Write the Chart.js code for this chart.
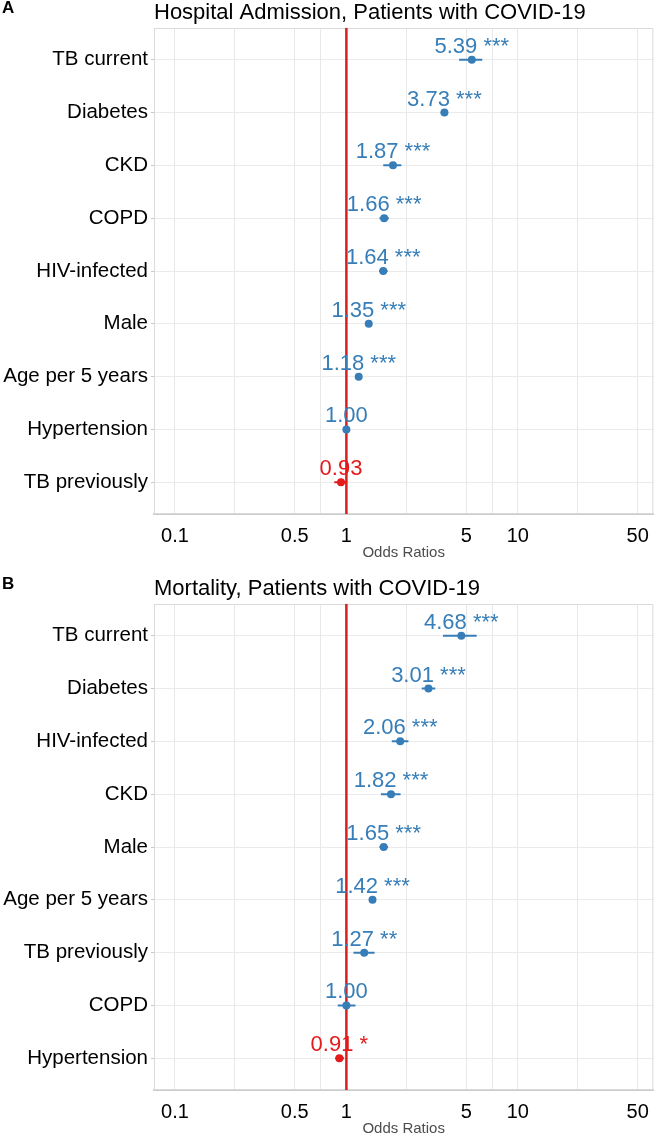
<!DOCTYPE html>
<html>
<head>
<meta charset="utf-8">
<title>COVID-19 odds ratios</title>
<script src="https://cdn.jsdelivr.net/npm/chart.js@4.4.1/dist/chart.umd.min.js"></script>
<style>
  html, body { margin: 0; padding: 0; background: #fff; overflow: hidden; }
  .panel { position: absolute; left: 0; width: 659px; height: 567px; }
  #panelA { top: 0; }
  #panelB { top: 576px; }
</style>
</head>
<body>
<div class="panel" id="panelA"><canvas id="chartA"></canvas></div>
<div class="panel" id="panelB"><canvas id="chartB"></canvas></div>
<script>
// panel A - hospital admission
const admissionCategories = ["TB current", "Diabetes", "CKD", "COPD", "HIV-infected", "Male", "Age per 5 years", "Hypertension", "TB previously"];
const admissionOR    = [5.39, 3.73, 1.87, 1.66, 1.64, 1.35, 1.18, 1.00, 0.93];
const admissionLower = [4.54, 3.55, 1.64, 1.56, 1.55, 1.30, 1.16, 0.96, 0.85];
const admissionUpper = [6.20, 3.92, 2.09, 1.77, 1.74, 1.40, 1.20, 1.04, 1.01];
const admissionStars = ["***", "***", "***", "***", "***", "***", "***", "", ""];

// panel B - mortality
const mortalityCategories = ["TB current", "Diabetes", "HIV-infected", "CKD", "Male", "Age per 5 years", "TB previously", "COPD", "Hypertension"];
const mortalityOR    = [4.68, 3.01, 2.06, 1.82, 1.65, 1.42, 1.27, 1.00, 0.91];
const mortalityLower = [3.66, 2.75, 1.84, 1.59, 1.56, 1.38, 1.10, 0.89, 0.86];
const mortalityUpper = [5.75, 3.30, 2.30, 2.07, 1.75, 1.47, 1.46, 1.13, 0.97];
const mortalityStars = ["***", "***", "***", "***", "***", "***", "**", "", "*"];

const xTickLabels = [0.1, 0.5, 1, 5, 10, 50];

const FONT = "'Liberation Sans', Arial, sans-serif";
const BLUE = "#377eb8";
const RED = "#e41a1c";
const LINE_RED = "#d71f1f";

// minor grid lines halfway (log scale) between the labelled ticks
const xGrid = [];
xTickLabels.forEach((v, i) => {
    xGrid.push(v);
    if (i < xTickLabels.length - 1) xGrid.push(Math.sqrt(v * xTickLabels[i + 1]));
});

const panelTag = {
    id: "panelTag",
    afterDraw(chart, args, opts) {
        const ctx = chart.ctx;
        ctx.save();
        ctx.font = "bold 17px " + FONT;
        ctx.fillStyle = "#000";
        ctx.textBaseline = "alphabetic";
        ctx.fillText(opts.text, 2, 13);
        ctx.restore();
    }
};

const panelFrame = {
    id: "panelFrame",
    beforeDatasetsDraw(chart) {
        const a = chart.chartArea;
        const ctx = chart.ctx;
        ctx.save();
        ctx.strokeStyle = "#dadada";
        ctx.lineWidth = 1;
        ctx.strokeRect(a.left + 0.5, a.top + 0.5, a.right - a.left - 1, a.bottom - a.top - 1);
        ctx.restore();
    }
};

const valueLabels = {
    id: "valueLabels",
    afterDatasetsDraw(chart, args, opts) {
        const ctx = chart.ctx;
        const xs = chart.scales.x;
        const ys = chart.scales.y;
        ctx.save();
        ctx.font = "22px " + FONT;
        ctx.textAlign = "center";
        ctx.textBaseline = "alphabetic";
        opts.or.forEach((v, i) => {
            const text = v.toFixed(2) + (opts.stars[i] ? " " + opts.stars[i] : "");
            ctx.fillStyle = v < 1 ? RED : BLUE;
            ctx.fillText(text, xs.getPixelForValue(v), ys.getPixelForValue(i) - 7);
        });
        ctx.restore();
    }
};

function makeForest(canvasId, tag, title, categories, or, lower, upper, stars) {
    const colors = or.map(v => v < 1 ? RED : BLUE);
    const points = or.map((v, i) => ({ x: v, y: i }));
    const bars = [];
    categories.forEach((c, i) => {
        bars.push({ x: lower[i], y: i }, { x: upper[i], y: i }, { x: null, y: null });
    });
    const yMin = -0.6, yMax = categories.length - 1 + 0.6;

    const ctx = document.getElementById(canvasId).getContext("2d");
    return new Chart(ctx, {
        type: "scatter",
        data: {
            datasets: [
                {
                    label: "Odds ratio",
                    data: points,
                    pointRadius: 4,
                    pointHoverRadius: 4,
                    pointBackgroundColor: colors,
                    pointBorderColor: colors,
                    pointBorderWidth: 0
                },
                {
                    label: "95% CI",
                    data: bars,
                    showLine: true,
                    pointRadius: 0,
                    borderWidth: 2,
                    spanGaps: false,
                    segment: {
                        borderColor: c => colors[Math.floor(c.p0DataIndex / 3)]
                    }
                },
                {
                    label: "OR = 1",
                    data: [{ x: 1, y: yMin }, { x: 1, y: yMax }],
                    showLine: true,
                    pointRadius: 0,
                    borderColor: LINE_RED,
                    borderWidth: 2.5
                }
            ]
        },
        options: {
            responsive: true,
            maintainAspectRatio: false,
            animation: false,
            devicePixelRatio: 1,
            layout: { padding: { left: 0, right: 2, top: 0, bottom: 0 } },
            plugins: {
                legend: { display: false },
                tooltip: { enabled: false },
                title: {
                    display: true,
                    text: title,
                    align: "start",
                    fullSize: false,
                    color: "#000",
                    font: { family: FONT, size: 22, weight: "normal", lineHeight: 1 },
                    padding: { top: 2, bottom: 4 }
                },
                panelTag: { text: tag },
                valueLabels: { or: or, stars: stars }
            },
            scales: {
                x: {
                    type: "logarithmic",
                    min: 0.0755,
                    max: 61.7,
                    afterBuildTicks: scale => {
                        scale.ticks = xGrid.map(v => ({ value: v }));
                    },
                    afterFit: scale => { scale.height = 53; },
                    ticks: {
                        autoSkip: false,
                        maxRotation: 0,
                        padding: 10,
                        color: "#000",
                        font: { family: FONT, size: 20 },
                        callback: v => xTickLabels.includes(v) ? String(v) : ""
                    },
                    grid: { color: "#e8e8e8", drawTicks: false },
                    border: { color: "#cccccc", width: 2 },
                    title: {
                        display: true,
                        text: "Odds Ratios",
                        color: "#4d4d4d",
                        font: { family: FONT, size: 15 },
                        padding: { top: 0, bottom: 5 }
                    }
                },
                y: {
                    type: "linear",
                    reverse: true,
                    min: yMin,
                    max: yMax,
                    afterBuildTicks: scale => {
                        scale.ticks = categories.map((c, i) => ({ value: i }));
                    },
                    afterFit: scale => { scale.width = 154; },
                    ticks: {
                        autoSkip: false,
                        padding: 3,
                        color: "#000",
                        font: { family: FONT, size: 20.5 },
                        callback: v => categories[v]
                    },
                    grid: { color: "#ebebeb", tickLength: 3, tickColor: "#c8c8c8" },
                    border: { color: "#dadada", width: 1 }
                }
            }
        },
        plugins: [panelTag, panelFrame, valueLabels]
    });
}

makeForest("chartA", "A", "Hospital Admission, Patients with COVID-19",
    admissionCategories, admissionOR, admissionLower, admissionUpper, admissionStars);
makeForest("chartB", "B", "Mortality, Patients with COVID-19",
    mortalityCategories, mortalityOR, mortalityLower, mortalityUpper, mortalityStars);
</script>
</body>
</html>
